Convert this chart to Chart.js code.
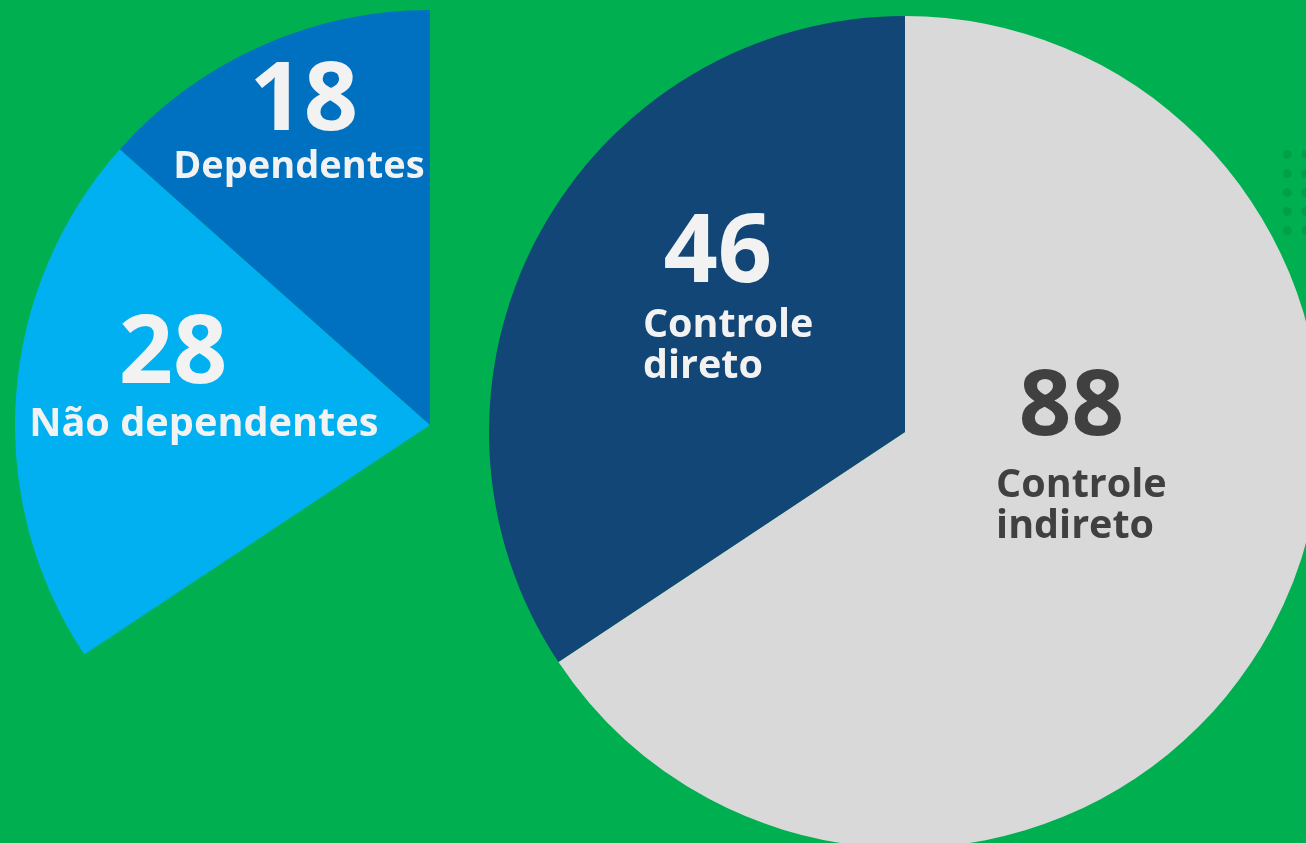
<!DOCTYPE html>
<html>
<head>
<meta charset="utf-8">
<script src="https://cdn.jsdelivr.net/npm/chart.js@4"></script>
<style>
  html, body { margin: 0; padding: 0; }
  body { width: 1306px; height: 843px; overflow: hidden; background: #00B050; position: relative; font-family: "Open Sans", sans-serif; }
  .box { position: absolute; }
  #dots {
    position: absolute; left: 1278px; top: 145px; width: 40px; height: 95px;
    background-image: radial-gradient(circle, #00A049 4.2px, rgba(0,0,0,0) 4.8px);
    background-size: 18.5px 19px;
  }
</style>
</head>
<body>
<div id="dots"></div>
<div class="box" style="left:15px; top:10px; width:830px; height:830px;"><canvas id="diretoChart"></canvas></div>
<div class="box" style="left:489px; top:16px; width:832px; height:832px;"><canvas id="controleChart"></canvas></div>
<script>
// Dados
const controleLabels = [['Controle', 'indireto'], ['Controle', 'direto']];
const controleValues = [88, 46];
const controleColors = ['#D9D9D9', '#124677'];

// detalhe do controle direto (o resto do círculo fica invisível)
const diretoLabels = [null, ['Não dependentes'], ['Dependentes']];
const diretoValues = [88, 28, 18];
const diretoColors = ['rgba(0,0,0,0)', '#00B0F0', '#0070C0'];

// posição dos textos, em fração do raio a partir do centro
const controleTextPos = [
    { num: [0.40, 0.007], txt: [0.219, 0.156], align: 'left', color: '#404040', numSize: 92, txtSize: 39.5 },
    { num: [-0.45, -0.36], txt: [-0.63, -0.228], align: 'left', color: '#F2F2F2', numSize: 95, txtSize: 39.5 }
];
const diretoTextPos = [
    null,
    { num: [-0.619, -0.101], txt: [-0.545, 0.027], align: 'center', color: '#F2F2F2', numSize: 95, txtSize: 39.7 },
    { num: [-0.304, -0.711], txt: [-0.316, -0.595], align: 'center', color: '#F2F2F2', numSize: 95, txtSize: 38 }
];

const sliceText = {
    id: 'sliceText',
    afterDatasetsDraw(chart, args, opts) {
        const ctx = chart.ctx;
        const meta = chart.getDatasetMeta(0);
        const values = chart.data.datasets[0].data;
        meta.data.forEach((arc, i) => {
            const p = opts.pos[i];
            if (!p) return;
            const r = arc.outerRadius;
            ctx.save();
            ctx.fillStyle = p.color;
            ctx.textBaseline = 'alphabetic';
            ctx.textAlign = 'center';
            ctx.font = 'bold ' + p.numSize + 'px "Open Sans"';
            ctx.fillText(String(values[i]), arc.x + p.num[0] * r, arc.y + p.num[1] * r);
            ctx.textAlign = p.align;
            ctx.font = 'bold ' + p.txtSize + 'px "Open Sans"';
            opts.labels[i].forEach((line, j) => {
                ctx.fillText(line, arc.x + p.txt[0] * r, arc.y + p.txt[1] * r + j * 41);
            });
            ctx.restore();
        });
    }
};

function pie(id, values, colors, labels, pos) {
    return new Chart(document.getElementById(id), {
        type: 'pie',
        data: { labels: values.map(String), datasets: [{ data: values, backgroundColor: colors, borderWidth: 0 }] },
        options: {
            responsive: true,
            maintainAspectRatio: false,
            animation: false,
            events: [],
            layout: { padding: 0 },
            plugins: {
                legend: { display: false },
                tooltip: { enabled: false },
                sliceText: { labels: labels, pos: pos }
            }
        },
        plugins: [sliceText]
    });
}

pie('diretoChart', diretoValues, diretoColors, diretoLabels, diretoTextPos);
pie('controleChart', controleValues, controleColors, controleLabels, controleTextPos);
</script>
</body>
</html>
